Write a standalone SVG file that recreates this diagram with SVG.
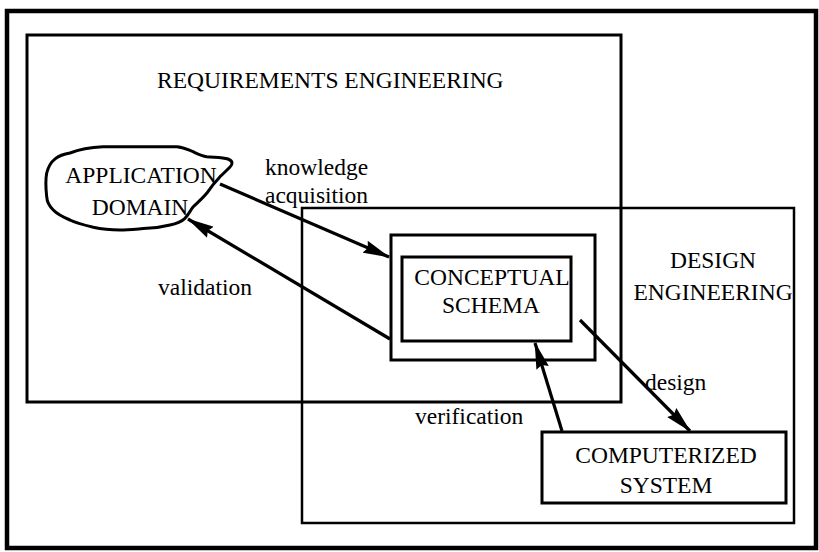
<svg xmlns="http://www.w3.org/2000/svg" width="819" height="552" viewBox="0 0 819 552">
  <defs>
    <style>
      .box { fill: none; stroke: #000; stroke-width: 3; }
      .thin { fill: none; stroke: #000; stroke-width: 2.5; }
      .frame { fill: none; stroke: #000; stroke-width: 4.5; }
      .lbl { font-family: "Liberation Serif", "Times New Roman", serif; font-size: 23.5px; fill: #000; }
      .mid { text-anchor: middle; }
      .conn { fill: none; stroke: #000; stroke-width: 3.2; }
    </style>
    <!-- long, narrow filled arrowhead -->
    <marker id="head" viewBox="0 0 27 13" refX="26" refY="6.5" markerWidth="27" markerHeight="13" markerUnits="userSpaceOnUse" orient="auto">
      <path d="M0,0 L27,6.5 L0,13 L3,6.5 Z" fill="#000"/>
    </marker>
  </defs>

  <rect width="819" height="552" fill="#fff"/>

  <!-- outer page frame -->
  <rect class="frame" x="7" y="11" width="809" height="537"/>

  <!-- requirements engineering region -->
  <g id="requirements-engineering">
    <rect class="box" x="27" y="35" width="594" height="367"/>
    <text class="lbl" x="157" y="88">REQUIREMENTS ENGINEERING</text>
  </g>

  <!-- design engineering region -->
  <g id="design-engineering">
    <rect class="thin" x="302" y="208" width="492" height="315"/>
    <text class="lbl mid" x="713" y="268">DESIGN</text>
    <text class="lbl mid" x="713" y="300">ENGINEERING</text>
  </g>

  <!-- application domain blob -->
  <g id="application-domain">
    <path class="box" d="M46.7,173 C50,160 58,155 70,153 C82,148 95,147 103,146.7 L176.7,146.7 C184,147 188,150 193,151.7 C198,154 202,156 206.7,156.7 C214,157.5 222,157 228,159 C233,161 233,164 230,167 C226,171 223,174 220,176.7 C215,182 211,187 206.7,193.3 C202,199 197,203 193.3,206.7 C190,211 188,215 185,218.3 C181,222 175,224 170,225 C162,227 154,228 146.7,228.3 C137,229 128,230 120,230 C110,230 101,229 93.3,227.3 C84,225 76,223 70,220 C63,217 57,214 53.3,210 C49,206 47,202 46.7,196.7 C46,190 45,182 46.7,173 Z"/>
    <text class="lbl mid" x="141" y="183">APPLICATION</text>
    <text class="lbl mid" x="140" y="215">DOMAIN</text>
  </g>

  <!-- conceptual schema, double box -->
  <g id="conceptual-schema">
    <rect class="box" x="391" y="235" width="204" height="125"/>
    <rect class="box" x="402" y="257" width="169" height="84"/>
    <text class="lbl mid" x="492" y="285">CONCEPTUAL</text>
    <text class="lbl mid" x="491" y="313">SCHEMA</text>
  </g>

  <!-- computerized system -->
  <g id="computerized-system">
    <rect class="box" x="542" y="432" width="244" height="71"/>
    <text class="lbl mid" x="666" y="463">COMPUTERIZED</text>
    <text class="lbl mid" x="666" y="493">SYSTEM</text>
  </g>

  <!-- connectors -->
  <g id="connectors">
    <line class="conn" x1="220" y1="184" x2="389" y2="257" marker-end="url(#head)"/>
    <line class="conn" x1="390" y1="339" x2="188" y2="219" marker-end="url(#head)"/>
    <line class="conn" x1="580" y1="320" x2="690" y2="431" marker-end="url(#head)"/>
    <line class="conn" x1="562" y1="431" x2="535" y2="343" marker-end="url(#head)"/>
  </g>

  <!-- connector labels -->
  <g id="connector-labels">
    <text class="lbl" x="265" y="175">knowledge</text>
    <text class="lbl" x="265" y="203">acquisition</text>
    <text class="lbl" x="158" y="295">validation</text>
    <text class="lbl" x="645" y="390">design</text>
    <text class="lbl" x="415" y="424">verification</text>
  </g>
</svg>
